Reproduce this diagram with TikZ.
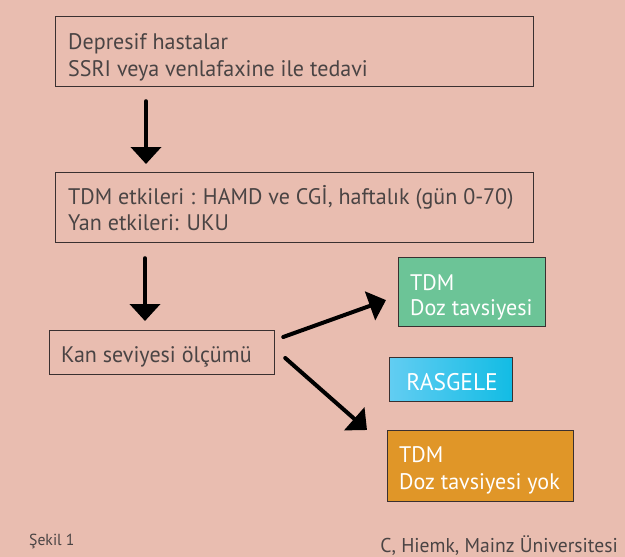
\documentclass[tikz,border=0pt]{standalone}
\usepackage{fontspec}
\setmainfont{PT Sans}[FakeStretch=0.98]
\usetikzlibrary{arrows.meta,calc}
\definecolor{bg}{HTML}{E9BDB0}
\definecolor{boxline}{HTML}{3A3030}
\definecolor{txt}{HTML}{4A4444}
\definecolor{greenbox}{HTML}{6CC497}
\definecolor{bluel}{HTML}{62CDF2}
\definecolor{bluer}{HTML}{12BCE4}
\definecolor{orangebox}{HTML}{E09628}
\begin{document}
\begin{tikzpicture}[x=1pt,y=-1pt,
  box/.style={draw=boxline, line width=1.2pt, anchor=north west, inner sep=0pt},
  tx/.style={anchor=base west, inner sep=0pt, font=\fontsize{22.5}{27}\selectfont, text=txt},
  wtx/.style={tx, text=white},
  arr/.style={line width=4pt, line cap=round, -{Triangle[width=30pt,length=17pt]}},
  note/.style={anchor=base west, text=txt, inner sep=0pt}]
\fill[bg] (0,0) rectangle (625,557);
\useasboundingbox (0,0) rectangle (625,557);
% boxes
\node[box, minimum width=478pt, minimum height=70pt] (a) at (55,16) {};
\node[box, minimum width=478pt, minimum height=70pt] (b) at (55,172) {};
\node[box, minimum width=225pt, minimum height=44pt] (c) at (49,330) {};
\node[box, fill=greenbox, minimum width=147pt, minimum height=69pt] (g) at (398,257) {};
\node[box, left color=bluel, right color=bluer, minimum width=123pt, minimum height=44pt] (r) at (389,357) {};
\node[box, fill=orangebox, minimum width=186pt, minimum height=71pt] (o) at (387,430) {};
% texts
\node[tx] (a1) at ($(a.north west)+(13,33)$) {Depresif hastalar};
\node[tx] (a2) at ($(a.north west)+(13,60)$) {SSRI veya venlafaxine ile tedavi};
\node[tx] (b1) at ($(b.north west)+(13,32)$) {TDM etkileri : HAMD ve CGİ, haftalık (gün 0-70)};
\node[tx] (b2) at ($(b.north west)+(13,58)$) {Yan etkileri: UKU};
\node[tx] (c1) at ($(c.north west)+(12,32)$) {Kan seviyesi ölçümü};
\node[wtx] (g1) at ($(g.north west)+(12,33)$) {TDM};
\node[wtx] (g2) at ($(g.north west)+(12,58)$) {Doz tavsiyesi};
\node[wtx, anchor=base, font=\fontsize{24}{28}\selectfont] (r1) at ($(r.north)+(1,33)$) {RASGELE};
\node[wtx] (o1) at ($(o.north west)+(12,32)$) {TDM};
\node[wtx] (o2) at ($(o.north west)+(12,59)$) {Doz tavsiyesi yok};
% arrows
\draw[arr] ($(a.south west)+(91,14)$) -- ($(b.north west)+(91,-8)$);
\draw[arr] ($(b.south west)+(90,15)$) -- ($(c.north west)+(96,-9)$);
\draw[arr] ($(c.north east)+(8,7)$) -- ($(g.west)+(-12,8)$);
\draw[arr] ($(c.north east)+(10,28)$) -- ($(o.north west)+(-20,0)$);
% captions
\node[note, font=\fontsize{16}{19}\selectfont] (s) at (29,545) {Şekil 1};
\node[note, anchor=base east, font=\fontsize{20}{24}\selectfont] (h) at (618,552) {C, Hiemk, Mainz Üniversitesi};
\end{tikzpicture}
\end{document}
